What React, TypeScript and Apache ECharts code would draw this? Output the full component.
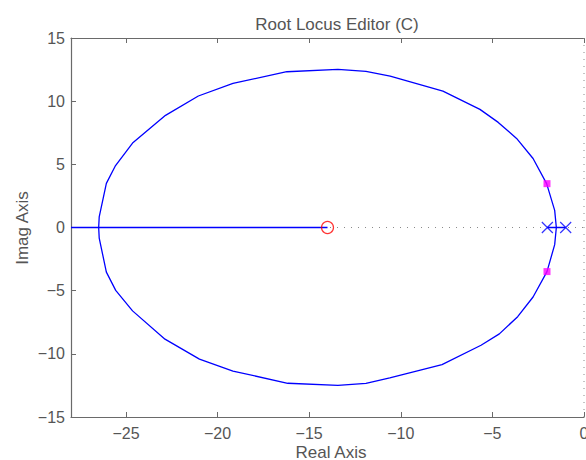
import React, { useEffect, useRef } from "react";
import * as echarts from "echarts";

const titleText = "Root Locus Editor (C)";
const xName = "Real Axis";
const yName = "Imag Axis";
const xTicks = [-25, -20, -15, -10, -5, 0];
const yTicks = [-15, -10, -5, 0, 5, 10, 15];

// upper branch: from breakaway point up and round to the re-entry point
const upperBranch: [number, number][] = [
  [-1.51, 0], [-1.6, 1.36], [-2.04, 3.47], [-2.78, 5.46], [-3.68, 7.05],
  [-4.68, 8.32], [-5.68, 9.35], [-7.7, 10.8], [-10.58, 11.99], [-11.9, 12.36],
  [-13.43, 12.52], [-16.22, 12.33], [-19.16, 11.4], [-21.05, 10.41],
  [-22.84, 8.88], [-24.64, 6.68], [-25.59, 4.85], [-26.07, 3.49],
  [-26.46, 0.84], [-26.49, 0],
];
// lower branch
const lowerBranch: [number, number][] = [
  [-1.51, 0], [-1.6, -1.36], [-2.02, -3.49], [-2.78, -5.5], [-3.62, -7.06],
  [-4.62, -8.42], [-5.62, -9.32], [-7.75, -10.85], [-10.6, -11.9], [-11.9, -12.34],
  [-13.43, -12.5], [-16.17, -12.33], [-19.16, -11.36], [-20.99, -10.42],
  [-22.87, -8.84], [-24.64, -6.6], [-25.56, -4.98], [-26.07, -3.53],
  [-26.46, -0.84], [-26.49, 0],
];
// real-axis locus segments
const realAxisLeft: [number, number][] = [[-28, 0], [-14, 0]];
const realAxisPoles: [number, number][] = [[-2, 0], [-1, 0]];
// dotted reference axes
const zeroLineH: [number, number][] = [[-28, 0], [0, 0]];
const zeroLineV: [number, number][] = [[0, -15], [0, 15]];
// poles, zeros, closed-loop poles
const poles: [number, number][] = [[-2, 0], [-1, 0]];
const zeros: [number, number][] = [[-14, 0]];
const closedLoop: [number, number][] = [[-2.02, 3.47], [-2.02, -3.49]];

const FONT = "'Liberation Sans', Arial, Helvetica, sans-serif";
const TEXT = "#555555";
const AXIS = "#6a6a6a";
const minus = (v: number) => String(v).replace("-", "\u2212");

export default function App() {
  const ref = useRef<HTMLDivElement>(null);
  useEffect(() => {
    if (!ref.current) return;
    const chart = echarts.init(ref.current, null, { renderer: "svg" });
    const lineS = (data: [number, number][], color: string, width: number, type: any = "solid", z = 3) => ({
      type: "line",
      data,
      showSymbol: false,
      symbol: "none",
      silent: true,
      z,
      lineStyle: { color, width, type },
    });
    chart.setOption({
      animation: false,
      backgroundColor: "#ffffff",
      title: {
        text: titleText,
        left: 332,
        top: 11,
        textAlign: "center",
        textStyle: { color: TEXT, fontFamily: FONT, fontSize: 17, fontWeight: "normal" },
      },
      grid: { left: 71, right: 2, top: 38, bottom: 43, containLabel: false, outerBoundsMode: "none" },
      xAxis: [
        {
          type: "value",
          min: -28,
          max: 0,
          position: "bottom",
          axisLine: { show: true, onZero: false, lineStyle: { color: AXIS, width: 1.2 } },
          axisTick: { show: true, inside: true, length: 5, customValues: xTicks, lineStyle: { color: AXIS } },
          axisLabel: {
            show: true,
            customValues: xTicks,
            margin: 8,
            color: TEXT,
            fontFamily: FONT,
            fontSize: 16,
            hideOverlap: false,
            formatter: (v: number) => minus(v),
          },
          splitLine: { show: false },
        },
        {
          type: "value",
          min: -28,
          max: 0,
          position: "top",
          axisLine: { show: true, onZero: false, lineStyle: { color: AXIS, width: 1.2 } },
          axisTick: { show: true, inside: true, length: 5, customValues: xTicks, lineStyle: { color: AXIS } },
          axisLabel: { show: false },
          splitLine: { show: false },
        },
      ],
      yAxis: {
        type: "value",
        min: -15,
        max: 15,
        interval: 5,
        axisLine: { show: true, onZero: false, lineStyle: { color: AXIS, width: 1.2 } },
        axisTick: { show: true, inside: true, length: 5, lineStyle: { color: AXIS } },
        axisLabel: {
          margin: 6,
          color: TEXT,
          fontFamily: FONT,
          fontSize: 16,
          formatter: (v: number) => minus(v),
        },
        splitLine: { show: false },
      },
      graphic: [
        {
          type: "text",
          x: 331,
          y: 452,
          style: { text: xName, fill: TEXT, font: `17px ${FONT}`, align: "center", verticalAlign: "middle" },
        },
        {
          type: "text",
          x: 22,
          y: 228,
          rotation: Math.PI / 2,
          style: { text: yName, fill: TEXT, font: `17px ${FONT}`, align: "center", verticalAlign: "middle" },
        },
      ],
      series: [
        lineS(zeroLineH, "#8a8a8a", 1, [1, 6], 1),
        lineS(zeroLineV, "#8a8a8a", 1, [1, 6], 1),
        lineS(realAxisLeft, "#0000ff", 1.3),
        lineS(realAxisPoles, "#0000ff", 1.3),
        lineS(upperBranch, "#0000ff", 1.3),
        lineS(lowerBranch, "#0000ff", 1.3),
        {
          type: "scatter",
          data: poles,
          symbol: "path://M0,0L10,10M10,0L0,10",
          symbolSize: 11,
          silent: true,
          z: 5,
          itemStyle: { color: "none", borderColor: "#0000ff", borderWidth: 1.2 },
        },
        {
          type: "scatter",
          data: zeros,
          symbol: "circle",
          symbolSize: 12,
          silent: true,
          z: 5,
          itemStyle: { color: "none", borderColor: "#ff0000", borderWidth: 1.2 },
        },
        {
          type: "scatter",
          data: closedLoop,
          symbol: "rect",
          symbolSize: 7,
          silent: true,
          z: 6,
          itemStyle: { color: "#ff00ff" },
        },
      ],
    });
    return () => chart.dispose();
  }, []);
  return (
    <div
      ref={ref}
      style={{ position: "fixed", left: 0, top: 0, width: 586, height: 460, background: "#fff" }}
    />
  );
}
